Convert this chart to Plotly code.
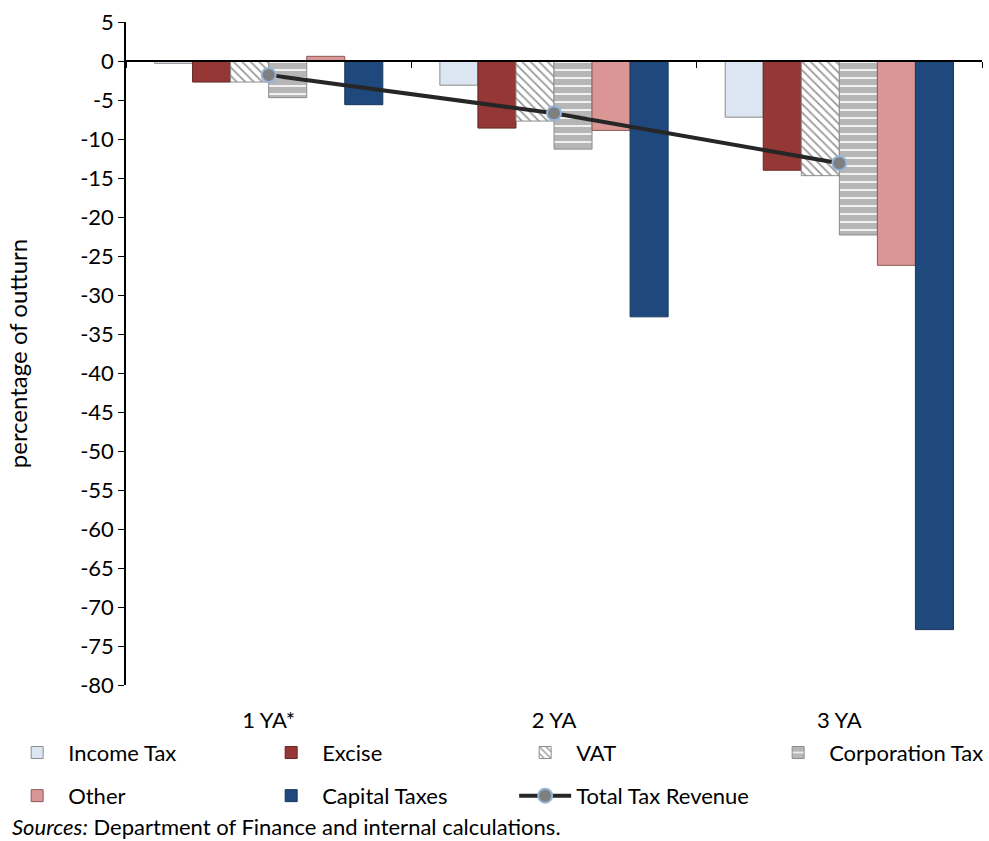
import plotly.graph_objects as go

# Revenue forecast errors by horizon (percentage of outturn)
horizons = ["1 YA*", "2 YA", "3 YA"]
income_tax = [-0.3, -3.1, -7.2]
excise = [-2.7, -8.6, -14.0]
vat = [-2.7, -7.7, -14.7]
corporation_tax = [-4.7, -11.3, -22.3]
other = [0.6, -8.9, -26.2]
capital_taxes = [-5.6, -32.8, -72.9]
total_tax_revenue = [-1.8, -6.7, -13.1]

y_ticks = list(range(5, -85, -5))

FONT = "Lato"
FS = 22
fig = go.Figure()

bar_specs = [
    ("Income Tax", income_tax, dict(color="#dce6f2", line=dict(color="#8c8c8c", width=1)), "legend"),
    ("Excise", excise, dict(color="#953735", line=dict(color="#632523", width=1)), "legend"),
    ("VAT", vat, dict(color="#ffffff", line=dict(color="#8c8c8c", width=1),
                      pattern=dict(shape="\\", fgcolor="#333333", bgcolor="#ffffff",
                                   size=6, solidity=0.3)), "legend"),
    ("Corporation Tax", corporation_tax, dict(color="#ffffff", line=dict(color="#8c8c8c", width=1),
                                              pattern=dict(shape="-", fgcolor="#6e6e6e",
                                                           bgcolor="#ffffff", size=8,
                                                           solidity=0.8)), "legend3"),
    ("Other", other, dict(color="#d99694", line=dict(color="#8e5a59", width=1)), "legend2"),
    ("Capital Taxes", capital_taxes, dict(color="#1f497d", line=dict(color="#17375e", width=1)), "legend2"),
]
for name, vals, marker, leg in bar_specs:
    fig.add_trace(go.Bar(x=horizons, y=vals, name=name, marker=marker, legend=leg))

fig.add_trace(go.Scatter(
    x=horizons, y=total_tax_revenue, name="Total Tax Revenue", mode="lines+markers",
    line=dict(color="#262626", width=4),
    marker=dict(symbol="circle", size=14, color="#7f7f7f",
                line=dict(color="#95b3d7", width=2)),
    legend="legend2",
))

# invisible trace carrying the zero-line axis with boundary ticks
fig.add_trace(go.Scatter(x=horizons, y=[None] * 3, xaxis="x2", showlegend=False,
                         hoverinfo="skip", mode="markers"))

ymin, ymax = -80, 5
zero_pos = (0 - ymin) / (ymax - ymin)

legend_common = dict(orientation="h", xanchor="left", yanchor="top",
                     entrywidth=187, entrywidthmode="pixels", itemwidth=52,
                     font=dict(size=FS), bgcolor="rgba(0,0,0,0)")

fig.update_layout(
    width=989, height=841,
    margin=dict(l=126, r=7, t=22, b=156, autoexpand=False),
    paper_bgcolor="white", plot_bgcolor="white",
    font=dict(family=FONT, size=FS, color="#000000"),
    barmode="group", bargap=0.2, bargroupgap=0,
    xaxis=dict(type="category", categoryorder="array", categoryarray=horizons,
               range=[-0.5, 2.5], showline=False, ticks="", showgrid=False,
               ticklabelstandoff=20, tickfont=dict(size=FS)),
    xaxis2=dict(type="category", categoryorder="array", categoryarray=horizons,
                range=[-0.5, 2.5], overlaying="x", anchor="free", position=zero_pos,
                side="bottom", showline=True, linecolor="#000000", linewidth=1.5,
                ticks="outside", tickson="boundaries", ticklen=6, tickcolor="#000000",
                showticklabels=False, showgrid=False),
    yaxis=dict(range=[ymin, ymax], tickvals=y_ticks, ticktext=[str(v) for v in y_ticks],
               showline=True, linecolor="#000000", linewidth=1.5, ticks="outside",
               ticklen=6, tickcolor="#000000", showgrid=False, zeroline=False,
               title=dict(text="percentage of outturn", font=dict(size=24), standoff=46),
               tickfont=dict(size=FS)),
    legend=dict(x=-0.14, y=-0.0705, **legend_common),
    legend3=dict(x=0.749, y=-0.0705, **legend_common),
    legend2=dict(x=-0.14, y=-0.1355, **legend_common),
    annotations=[dict(text="<i>Sources:</i> Department of Finance and internal calculations.",
                      xref="paper", yref="paper", x=-0.135, y=-0.214, xanchor="left",
                      yanchor="middle", showarrow=False, font=dict(size=FS))],
)

fig.write_html("out.html")
